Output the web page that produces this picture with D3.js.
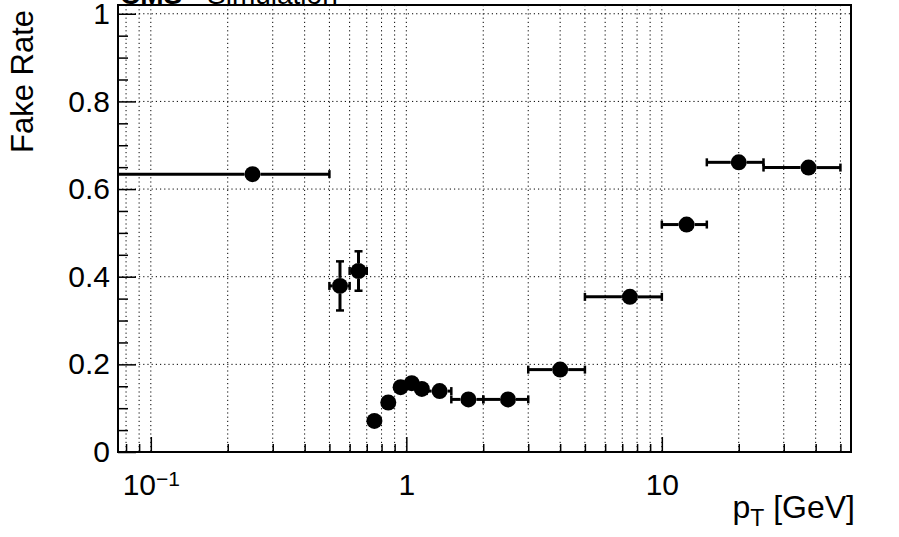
<!DOCTYPE html>
<html>
<head>
<meta charset="utf-8">
<script src="https://cdn.jsdelivr.net/npm/d3@7"></script>
<style>
  body { margin: 0; background: #fff; }
  svg { display: block; font-family: "Liberation Sans", Arial, sans-serif; }
</style>
</head>
<body>
<script>
// bins in pT [GeV] and the fake rate
const binLo = [0, 0.5, 0.6, 0.7, 0.8, 0.9, 1.0, 1.1, 1.2, 1.5, 2, 3, 5, 10, 15, 25];
const binHi = [0.5, 0.6, 0.7, 0.8, 0.9, 1.0, 1.1, 1.2, 1.5, 2, 3, 5, 10, 15, 25, 50];
const fakeRate = [0.634, 0.379, 0.413, 0.071, 0.113, 0.148, 0.157, 0.144, 0.139, 0.120, 0.120, 0.188, 0.354, 0.519, 0.661, 0.649];
const rateErr = [0.006, 0.056, 0.045, 0.008, 0.008, 0.008, 0.008, 0.008, 0.007, 0.006, 0.006, 0.008, 0.010, 0.012, 0.013, 0.012];

const yMajor = [0, 0.2, 0.4, 0.6, 0.8, 1];
const yMinor = d3.range(0.05, 1.01, 0.05).filter(v => Math.abs(v / 0.2 - Math.round(v / 0.2)) > 1e-6);
const xMajor = [0.1, 1, 10];
const xMinor = [0.08, 0.09, 0.2, 0.3, 0.4, 0.5, 0.6, 0.7, 0.8, 0.9, 2, 3, 4, 5, 6, 7, 8, 9, 20, 30, 40, 50];

const w = 899, h = 537;
const fLeft = 118, fRight = 851, fTop = 5, fBottom = 452;

const svg = d3.select("body").append("svg")
  .attr("width", w)
  .attr("height", h);

const x = d3.scaleLog().domain([0.0744, 55]).range([fLeft, fRight]);
const y = d3.scaleLinear().domain([0, 1.02]).range([fBottom, fTop]);

// grid
const grid = svg.append("g")
  .attr("stroke", "#000")
  .attr("stroke-width", 1)
  .attr("stroke-dasharray", "1.2,3");

grid.selectAll(".gx")
  .data(xMajor.concat(xMinor))
  .enter().append("line")
  .attr("x1", d => x(d)).attr("x2", d => x(d))
  .attr("y1", fTop).attr("y2", fBottom);

grid.selectAll(".gy")
  .data(yMajor.slice(1))
  .enter().append("line")
  .attr("x1", fLeft).attr("x2", fRight)
  .attr("y1", d => y(d)).attr("y2", d => y(d));

// title, only its lower edge shows above the frame (cut in the original too)
svg.append("text")
  .attr("x", 120)
  .attr("y", 4)
  .style("font-size", "28px")
  .call(t => {
    t.append("tspan").style("font-weight", "bold").text("CMS");
    t.append("tspan").attr("x", 207).text("Simulation");
  });

// axes
svg.append("g")
  .attr("transform", "translate(" + fLeft + ",0)")
  .call(d3.axisLeft(y).tickValues(yMajor).tickSize(-18).tickPadding(8)
    .tickFormat(d => d === 0 || d === 1 ? d3.format("d")(d) : d3.format(".1f")(d)));

svg.append("g")
  .attr("transform", "translate(" + fLeft + ",0)")
  .call(d3.axisLeft(y).tickValues(yMinor).tickSize(-10).tickFormat(""));

const xAxis = svg.append("g")
  .attr("transform", "translate(0," + fBottom + ")")
  .call(d3.axisBottom(x).tickValues(xMajor).tickSize(-15).tickPadding(22)
    .tickFormat(d => d >= 1 ? String(d) : ""));

svg.append("g")
  .attr("transform", "translate(0," + fBottom + ")")
  .call(d3.axisBottom(x).tickValues(xMinor).tickSize(-8).tickFormat(""));

// 10^-1 label
xAxis.selectAll(".tick text")
  .filter(d => d < 1)
  .call(t => {
    t.append("tspan").text("10");
    t.append("tspan").attr("dy", "-0.45em").style("font-size", "21px").text("\u22121");
  });

svg.selectAll(".domain").remove();
svg.selectAll(".tick line").attr("stroke", "#000").attr("stroke-width", 1.5);
svg.selectAll(".tick text").style("font-size", "30px").attr("fill", "#000")
  .style("font-family", "'Liberation Sans', Arial, sans-serif");

// frame
svg.append("rect")
  .attr("x", fLeft).attr("y", fTop)
  .attr("width", fRight - fLeft).attr("height", fBottom - fTop)
  .attr("fill", "none")
  .attr("stroke", "#000")
  .attr("stroke-width", 2);

// axis titles
svg.append("text")
  .attr("x", 855)
  .attr("y", 518)
  .attr("text-anchor", "end")
  .style("font-size", "32px")
  .call(t => {
    t.append("tspan").text("p");
    t.append("tspan").attr("dy", 8).style("font-size", "23px").text("T");
    t.append("tspan").attr("dy", -8).text(" [GeV]");
  });

svg.append("text")
  .attr("transform", "translate(33,10) rotate(-90)")
  .attr("text-anchor", "end")
  .style("font-size", "31px")
  .text("Fake Rate");

// points with error bars
const r = 8, cap = 4;
const pts = fakeRate.map((v, i) => ({
  lo: Math.max(binLo[i], x.domain()[0]),
  hi: binHi[i],
  cx: (binLo[i] + binHi[i]) / 2,
  v: v,
  e: rateErr[i],
  clipLeft: binLo[i] < x.domain()[0]
}));

const bars = svg.append("g")
  .attr("stroke", "#000")
  .attr("stroke-width", 3);

pts.forEach(p => {
  const px = x(p.cx), py = y(p.v);
  const xl = x(p.lo), xr = x(p.hi);
  const yt = y(p.v + p.e), yb = y(p.v - p.e);
  if (px - xl > r) {
    bars.append("line").attr("x1", xl).attr("x2", px - r).attr("y1", py).attr("y2", py);
    if (!p.clipLeft)
      bars.append("line").attr("x1", xl).attr("x2", xl).attr("y1", py - cap).attr("y2", py + cap).attr("stroke-width", 2.5);
  }
  if (xr - px > r) {
    bars.append("line").attr("x1", px + r).attr("x2", xr).attr("y1", py).attr("y2", py);
    bars.append("line").attr("x1", xr).attr("x2", xr).attr("y1", py - cap).attr("y2", py + cap).attr("stroke-width", 2.5);
  }
  if (py - yt > r) {
    bars.append("line").attr("x1", px).attr("x2", px).attr("y1", yt).attr("y2", py - r);
    bars.append("line").attr("x1", px - cap).attr("x2", px + cap).attr("y1", yt).attr("y2", yt).attr("stroke-width", 2.5);
  }
  if (yb - py > r) {
    bars.append("line").attr("x1", px).attr("x2", px).attr("y1", py + r).attr("y2", yb);
    bars.append("line").attr("x1", px - cap).attr("x2", px + cap).attr("y1", yb).attr("y2", yb).attr("stroke-width", 2.5);
  }
});

svg.selectAll(".dot")
  .data(pts)
  .enter().append("circle")
  .attr("class", "dot")
  .attr("cx", d => x(d.cx))
  .attr("cy", d => y(d.v))
  .attr("r", r)
  .attr("fill", "#000");
</script>
</body>
</html>
